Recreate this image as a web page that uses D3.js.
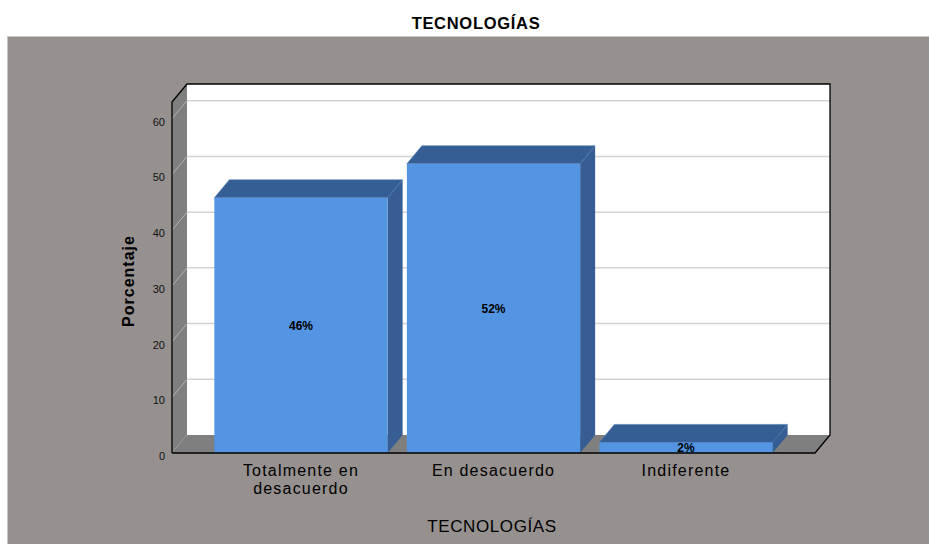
<!DOCTYPE html>
<html>
<head>
<meta charset="utf-8">
<script src="https://cdn.jsdelivr.net/npm/d3@7"></script>
<style>
  body { margin: 0; background: #ffffff; }
  svg { display: block; font-family: 'Liberation Sans', Arial, sans-serif; }
</style>
</head>
<body>
<script>
var width = 929;
var height = 544;

// Data.
var categories = [['Totalmente en', 'desacuerdo'], ['En desacuerdo'], ['Indiferente']];
var values = [45.8, 51.9, 1.9];
var valueLabels = ['46%', '52%', '2%'];
var yTicks = [0, 10, 20, 30, 40, 50, 60];

// 3D depth offset.
var dx = 15;
var dy = -18;

var svg = d3.select('body')
  .append('svg')
  .attr('width', width)
  .attr('height', height);

// Scales (front plane).
var x = d3.scaleBand()
  .domain(d3.range(categories.length))
  .range([172, 815])
  .paddingInner(0.1)
  .paddingOuter(0.22);

var y = d3.scaleLinear()
  .domain([0, 63])
  .range([453, 102]);

var x0 = x.range()[0], x1 = x.range()[1];
var y0 = y(0), yTop = y(63);

// Gray background.
svg.append('rect')
  .attr('x', 7.5)
  .attr('y', 36.5)
  .attr('width', width - 7)
  .attr('height', height - 36)
  .attr('fill', '#96918f')
  .attr('stroke', '#c8c6c5')
  .attr('stroke-width', 1);

// Title.
svg.append('text')
  .attr('x', 476)
  .attr('y', 29)
  .attr('text-anchor', 'middle')
  .attr('font-size', 16.5)
  .attr('font-weight', 'bold')
  .attr('letter-spacing', 0.7)
  .attr('fill', '#000')
  .text('TECNOLOGÍAS');

// Back wall.
svg.append('rect')
  .attr('x', x0 + dx)
  .attr('y', yTop + dy)
  .attr('width', x1 - x0)
  .attr('height', y0 - yTop)
  .attr('fill', '#ffffff');

// Grid lines on back wall.
svg.append('g')
  .selectAll('line')
  .data(yTicks.slice(1))
  .enter().append('line')
  .attr('x1', x0 + dx)
  .attr('x2', x1 + dx)
  .attr('y1', function(d) { return y(d) + dy; })
  .attr('y2', function(d) { return y(d) + dy; })
  .attr('stroke', '#d4d4d4')
  .attr('stroke-width', 1.5);

// Left wall.
svg.append('polygon')
  .attr('points', [[x0, yTop], [x0 + dx, yTop + dy], [x0 + dx, y0 + dy], [x0, y0]].join(' '))
  .attr('fill', '#7f7f7f');

svg.append('g')
  .selectAll('line')
  .data(yTicks)
  .enter().append('line')
  .attr('x1', x0)
  .attr('x2', x0 + dx)
  .attr('y1', function(d) { return y(d); })
  .attr('y2', function(d) { return y(d) + dy; })
  .attr('stroke', '#b4b4b4')
  .attr('stroke-width', 1);

// Floor.
svg.append('polygon')
  .attr('points', [[x0, y0], [x0 + dx, y0 + dy], [x1 + dx, y0 + dy], [x1, y0]].join(' '))
  .attr('fill', '#7f7f7f');

// Bars.
var bars = svg.append('g')
  .selectAll('g')
  .data(values)
  .enter().append('g');

bars.append('polygon')
  .attr('points', function(d, i) {
    var b = x(i) + x.bandwidth(), t = y(d);
    return [[b, t], [b + dx, t + dy], [b + dx, y0 + dy], [b, y0]].join(' ');
  })
  .attr('fill', '#365e94');

bars.append('polygon')
  .attr('points', function(d, i) {
    var a = x(i), b = x(i) + x.bandwidth(), t = y(d);
    return [[a, t], [a + dx, t + dy], [b + dx, t + dy], [b, t]].join(' ');
  })
  .attr('fill', '#355e94')
  .attr('stroke', '#4a78b3')
  .attr('stroke-width', 0.6);

bars.append('rect')
  .attr('x', function(d, i) { return x(i); })
  .attr('y', function(d) { return y(d); })
  .attr('width', x.bandwidth())
  .attr('height', function(d) { return y0 - y(d); })
  .attr('fill', '#5495e3');

bars.append('text')
  .attr('x', function(d, i) { return x(i) + x.bandwidth() / 2; })
  .attr('y', function(d) { return (y(d) + y0) / 2 + 4.5; })
  .attr('text-anchor', 'middle')
  .attr('font-size', 12)
  .attr('font-weight', 'bold')
  .attr('fill', '#000')
  .text(function(d, i) { return valueLabels[i]; });

// Axis edges.
svg.append('polyline')
  .attr('points', [[x0, y0], [x0, yTop], [x0 + dx, yTop + dy], [x1 + dx, yTop + dy], [x1 + dx, y0 + dy], [x1, y0], [x0, y0]].join(' '))
  .attr('stroke', '#000')
  .attr('stroke-width', 1.3)
  .attr('fill', 'none');

// Y tick labels.
svg.append('g')
  .selectAll('text')
  .data(yTicks)
  .enter().append('text')
  .attr('x', 165)
  .attr('y', function(d) { return y(d) + 7; })
  .attr('text-anchor', 'end')
  .attr('font-size', 11)
  .attr('fill', '#111')
  .text(function(d) { return d; });

// Category labels.
svg.append('g')
  .selectAll('text')
  .data(categories)
  .enter().append('text')
  .attr('x', function(d, i) { return x(i) + x.bandwidth() / 2; })
  .attr('y', 476)
  .attr('text-anchor', 'middle')
  .attr('font-size', 16)
  .attr('letter-spacing', 1.2)
  .attr('fill', '#000')
  .each(function(d) {
    var t = d3.select(this);
    d.forEach(function(line, k) {
      t.append('tspan')
        .attr('x', t.attr('x'))
        .attr('dy', k === 0 ? 0 : 18)
        .text(line);
    });
  });

// Axis titles.
svg.append('text')
  .attr('x', 492)
  .attr('y', 532)
  .attr('text-anchor', 'middle')
  .attr('font-size', 17)
  .attr('letter-spacing', 0.6)
  .attr('fill', '#000')
  .text('TECNOLOGÍAS');

svg.append('text')
  .attr('transform', 'translate(134,281) rotate(-90)')
  .attr('text-anchor', 'middle')
  .attr('font-size', 16)
  .attr('font-weight', 'bold')
  .attr('letter-spacing', 1)
  .attr('fill', '#000')
  .text('Porcentaje');
</script>
</body>
</html>
